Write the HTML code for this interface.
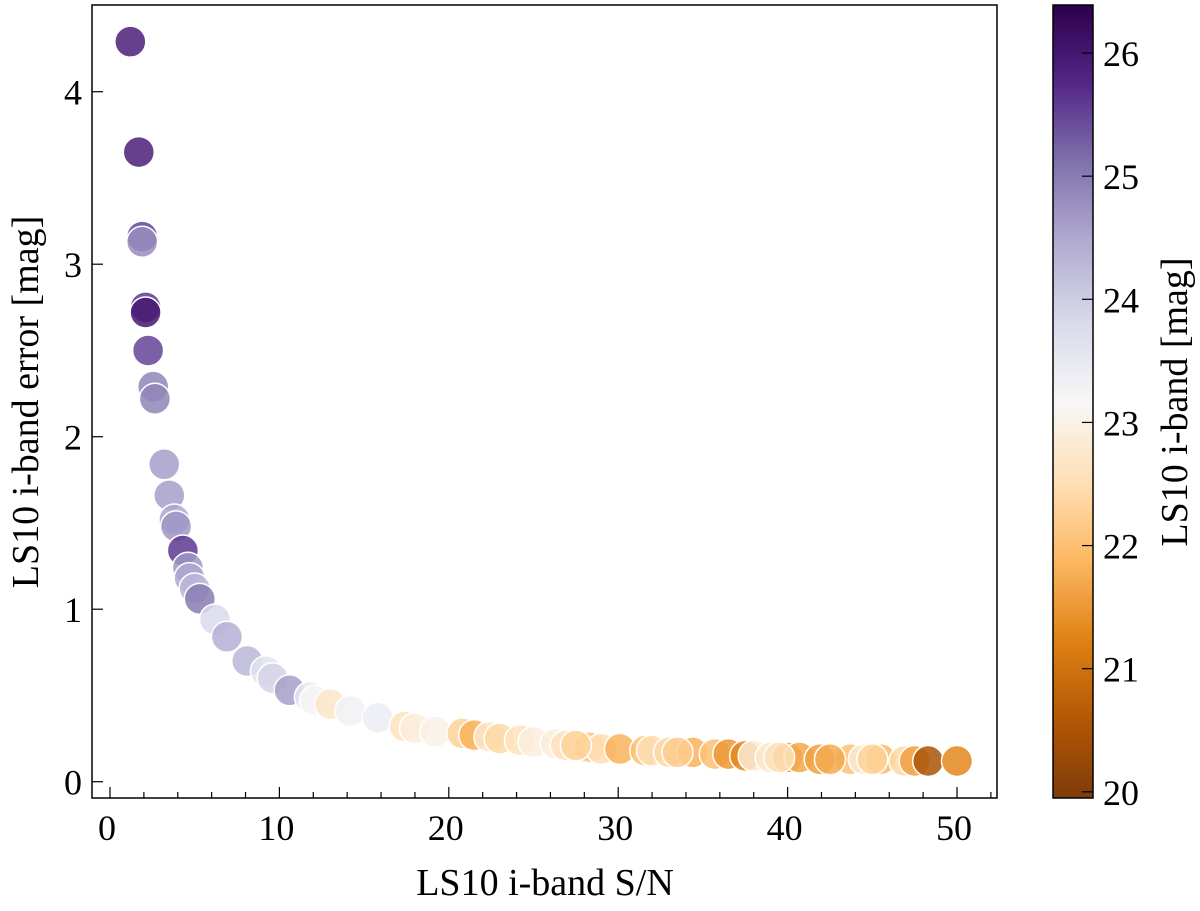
<!DOCTYPE html>
<html><head><meta charset="utf-8"><style>
html,body{margin:0;padding:0;background:#fff;}
svg{display:block;font-family:"Liberation Serif","DejaVu Serif",serif;}
</style></head><body>
<svg id="chart" width="1200" height="911" viewBox="0 0 1200 911" xmlns="http://www.w3.org/2000/svg">
<defs>
<linearGradient id="cbgrad" x1="0" y1="1" x2="0" y2="0"></linearGradient>
</defs>
<g id="points"></g>
<rect x="92" y="5" width="905" height="793" fill="none" stroke="#000" stroke-width="1.5"/>
<g id="axes"></g>
<rect id="cbar" x="1053" y="5" width="40" height="793" fill="url(#cbgrad)" stroke="#000" stroke-width="1.5"/>
<g id="cbticks"></g>
<text x="545" y="895" font-size="38" text-anchor="middle">LS10 i-band S/N</text>
<text transform="translate(38,402) rotate(-90)" font-size="38" text-anchor="middle">LS10 i-band error [mag]</text>
<text transform="translate(1187,402) rotate(-90)" font-size="38" text-anchor="middle">LS10 i-band [mag]</text>
</svg>
<script>
const snValues = [1.2,1.7,1.9,1.9,2.1,2.1,2.25,2.55,2.65,3.2,3.5,3.8,3.9,4.3,4.6,4.7,5.0,5.3,6.2,6.9,8.1,9.2,9.6,10.6,11.8,12.1,13.0,14.2,15.8,17.4,18,19.2,20.8,21.5,22.4,23,24.2,25,26.3,26.9,28.3,29,30.1,31.6,32,33.0,34.4,35.7,36.5,37.5,38,39.0,40,40.7,41.9,43.7,44.5,45.5,46.9,47.5,48.3,50.0,27.5,33.5,39.5,42.5,45.0];
const errValues = [4.29,3.65,3.16,3.13,2.75,2.72,2.5,2.29,2.22,1.84,1.66,1.52,1.48,1.34,1.24,1.18,1.12,1.06,0.94,0.84,0.70,0.64,0.60,0.53,0.49,0.47,0.45,0.41,0.37,0.32,0.31,0.29,0.28,0.27,0.26,0.25,0.24,0.23,0.22,0.21,0.20,0.19,0.19,0.18,0.18,0.17,0.17,0.16,0.16,0.15,0.15,0.14,0.14,0.14,0.13,0.13,0.13,0.13,0.12,0.12,0.12,0.12,0.21,0.17,0.14,0.13,0.13];
const magValues = [25.9,25.9,25.5,24.8,25.6,26.0,25.5,24.9,24.9,24.6,24.6,24.5,24.7,25.6,24.7,24.5,24.3,25.0,23.8,24.4,24.3,23.6,23.9,24.6,23.5,23.2,22.7,23.3,23.4,22.6,22.9,23.0,22.3,21.8,22.7,22.4,22.6,22.9,22.9,22.6,22.1,22.5,21.8,22.0,22.5,22.4,21.8,22.0,21.5,21.3,22.8,22.7,21.5,21.7,21.6,22.0,22.8,21.9,22.4,21.6,20.5,21.3,22.3,22.2,22.6,21.7,22.3];
const xTicks = [0,10,20,30,40,50];
const yTicks = [0,1,2,3,4];
const cbTicks = [20,21,22,23,24,25,26];

const NS='http://www.w3.org/2000/svg';
const xs = v => 110 + v*16.94;
const ys = v => 781.7 - v*172.5;
const VMIN=19.95, VMAX=26.39;
const cs = v => 798 - (v-VMIN)/(VMAX-VMIN)*793;
const cmap = ['#7f3b08','#b35806','#e08214','#fdb863','#fee0b6','#f7f7f7','#d8daeb','#b2abd2','#8073ac','#542788','#2d004b'];
function hex(h){return [1,3,5].map(i=>parseInt(h.substr(i,2),16));}
function color(m){
  let t=Math.max(0,Math.min(1,(m-VMIN)/(VMAX-VMIN)))*(cmap.length-1);
  let i=Math.min(Math.floor(t),cmap.length-2), f=t-i;
  let a=hex(cmap[i]), b=hex(cmap[i+1]);
  return 'rgb('+a.map((c,k)=>Math.round(c+(b[k]-c)*f)).join(',')+')';
}
function mk(tag,attrs,parent){const e=document.createElementNS(NS,tag);for(const k in attrs)e.setAttribute(k,attrs[k]);parent.appendChild(e);return e;}
const grad=document.getElementById('cbgrad');
cmap.forEach((c,i)=>mk('stop',{offset:(i/(cmap.length-1)),'stop-color':c},grad));

const pg=document.getElementById('points');
snValues.forEach((s,i)=>{
  const c=mk('circle',{cx:xs(s),cy:ys(errValues[i]),r:15.5,fill:color(magValues[i]),'fill-opacity':0.85,stroke:'#fff','stroke-width':1.5},pg);
  
  
});
const ax=document.getElementById('axes');
for(let v=0;v<=52;v+=2){
  const major=v%10===0;
  mk('line',{x1:xs(v),x2:xs(v),y1:798,y2:798-(major?11:6),stroke:'#000','stroke-width':1.2},ax);
}
xTicks.forEach(v=>{
  const t=mk('text',{x:xs(v)-3,y:840,'font-size':36,'text-anchor':'middle'},ax);
  t.textContent=v;
  
  
});
yTicks.forEach(v=>{
  mk('line',{x1:92,x2:103,y1:ys(v),y2:ys(v),stroke:'#000','stroke-width':1.2},ax);
  const t=mk('text',{x:82,y:ys(v)+13,'font-size':36,'text-anchor':'end'},ax);
  t.textContent=v;
  
  
});
const cg=document.getElementById('cbticks');
cbTicks.forEach(v=>{
  mk('line',{x1:1082,x2:1093,y1:cs(v),y2:cs(v),stroke:'#000','stroke-width':1.2},cg);
  const t=mk('text',{x:1103,y:cs(v)+13,'font-size':36},cg);
  t.textContent=v;
  
  
});
</script>
</body></html>
